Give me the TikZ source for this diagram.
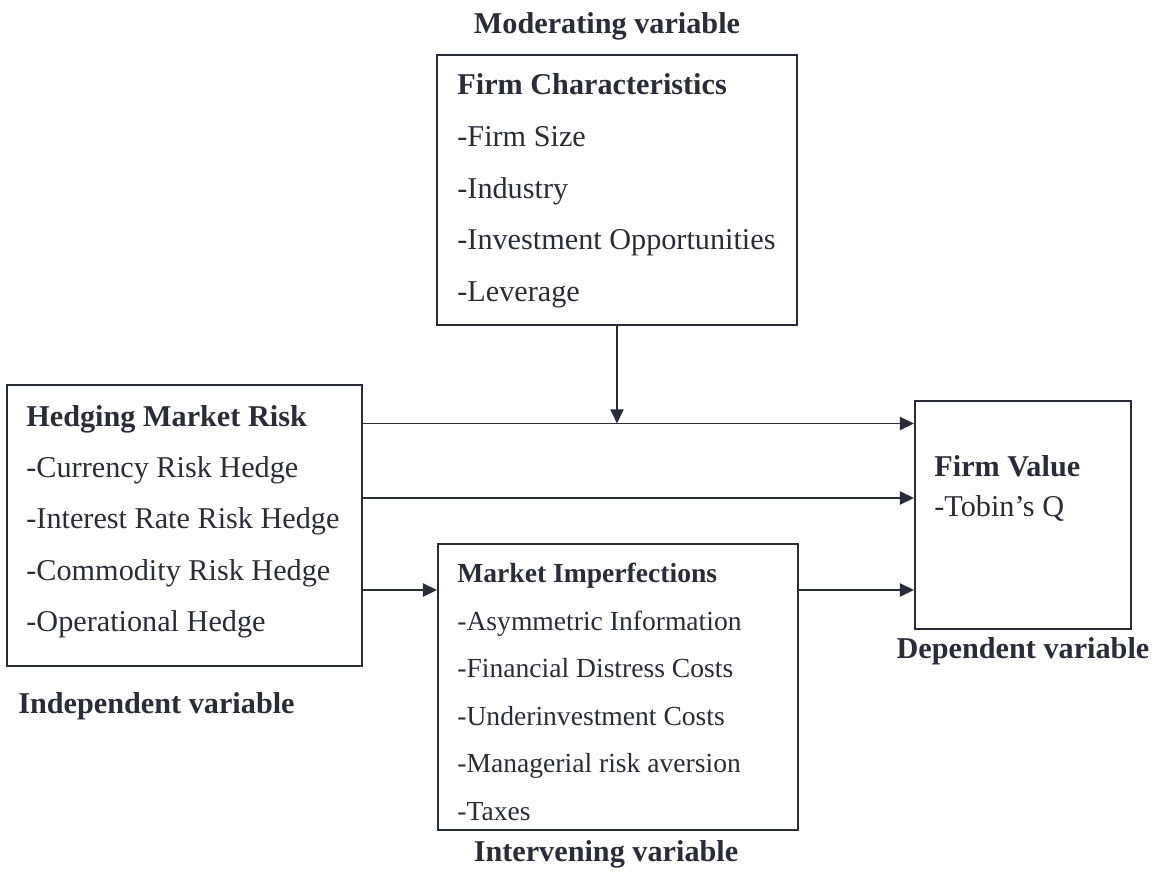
\documentclass[tikz,border=0pt]{standalone}
\usepackage{fontspec}
\setmainfont{Liberation Serif}
\usetikzlibrary{arrows.meta,positioning}

\definecolor{ink}{HTML}{2A2D38}

\tikzset{
    varbox/.style={draw=ink,line width=1.1pt,inner sep=0pt},
    boxtext/.style={anchor=north west,inner sep=0pt,align=left,text=ink},
    varlabel/.style={text=ink,inner sep=0pt,font=\fontsize{17.2}{20}\selectfont\bfseries},
    link/.style={draw=ink,line width=1.1pt,-{Triangle[length=8pt,width=7.4pt]}}
}

\begin{document}
\begin{tikzpicture}
    \useasboundingbox (0,0) rectangle (23.24,-17.44);

    \node[varbox,minimum width=7.20cm,minimum height=5.40cm] (fc) at (12.34,-3.80) {};
    \node[varbox,minimum width=7.10cm,minimum height=5.62cm] (hmr) at (3.69,-10.51) {};
    \node[varbox,minimum width=7.20cm,minimum height=5.72cm] (mi) at (12.36,-13.74) {};
    \node[varbox,minimum width=4.32cm,minimum height=4.56cm] (fv) at (20.46,-10.30) {};

    \node[boxtext,font=\fontsize{17.2}{29.5}\selectfont] (fctext) at ([shift={(0.42,-0.38)}]fc.north west)
        {\textbf{Firm Characteristics}\\-Firm Size\\-Industry\\-Investment Opportunities\\-Leverage};
    \node[boxtext,font=\fontsize{17.2}{29.2}\selectfont] (hmrtext) at ([shift={(0.40,-0.42)}]hmr.north west)
        {\textbf{Hedging Market Risk}\\-Currency Risk Hedge\\-Interest Rate Risk Hedge\\-Commodity Risk Hedge\\-Operational Hedge};
    \node[boxtext,font=\fontsize{15.7}{27}\selectfont] (mitext) at ([shift={(0.40,-0.40)}]mi.north west)
        {\textbf{Market Imperfections}\\-Asymmetric Information\\-Financial Distress Costs\\-Underinvestment Costs\\-Managerial risk aversion\\-Taxes};
    \node[boxtext,font=\fontsize{17.2}{22.8}\selectfont] (fvtext) at ([shift={(0.40,-1.10)}]fv.north west)
        {\textbf{Firm Value}\\-Tobin's Q};

    \node[varlabel] (modlabel) at (12.14,-0.52) {Moderating variable};
    \node[varlabel] (indlabel) at (3.13,-14.12) {Independent variable};
    \node[varlabel] (deplabel) at (20.46,-13.02) {Dependent variable};
    \node[varlabel] (intlabel) at (12.12,-17.08) {Intervening variable};

    \coordinate (row1) at (0,-8.47);
    \coordinate (row2) at (0,-9.96);
    \coordinate (row3) at (0,-11.80);

    \draw[link] (hmr.east |- row1) -- (fv.west |- row1);
    \draw[link] (fc.south) -- (fc.south |- row1);
    \draw[link] (hmr.east |- row2) -- (fv.west |- row2);
    \draw[link] (hmr.east |- row3) -- (mi.west |- row3);
    \draw[link] (mi.east |- row3) -- (fv.west |- row3);
\end{tikzpicture}
\end{document}
